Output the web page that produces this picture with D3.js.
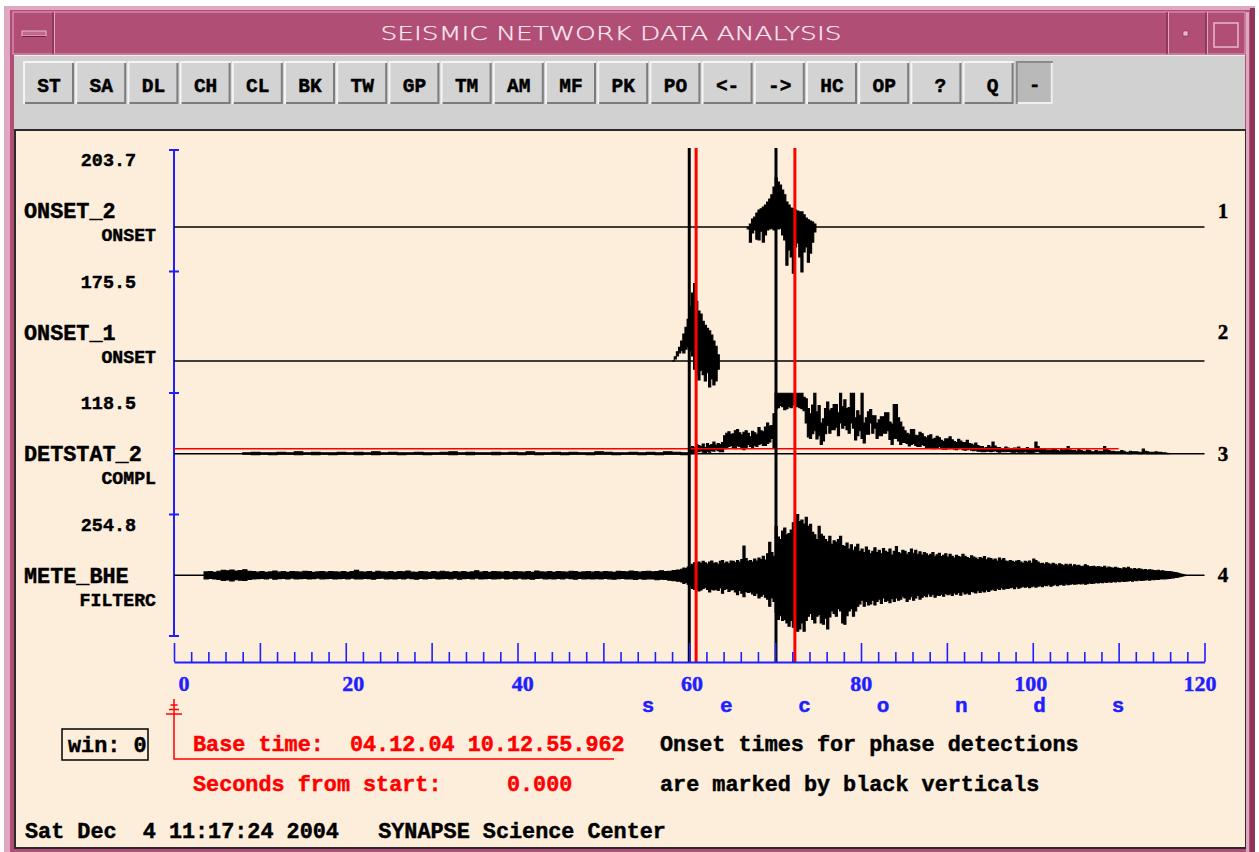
<!DOCTYPE html>
<html>
<head>
<meta charset="utf-8">
<script src="https://cdn.jsdelivr.net/npm/d3@7"></script>
<style>
  body { margin: 0; background: #ffffff; }
  svg { display: block; }
</style>
</head>
<body>
<svg id="chart" width="1259" height="852"></svg>
<script>
// ---------------- data ----------------
const windowTitle = "SEISMIC NETWORK DATA ANALYSIS";
const buttonLabels = ["ST","SA","DL","CH","CL","BK","TW","GP","TM","AM","MF","PK","PO","<-","->","HC","OP","?","Q"];

const channelNames   = ["ONSET_2", "ONSET_1", "DETSTAT_2", "METE_BHE"];
const channelTypes   = ["ONSET", "ONSET", "COMPL", "FILTERC"];
const channelScales  = [203.7, 175.5, 118.5, 254.8];
const channelNumbers = ["1", "2", "3", "4"];

const timeTickLabels = [0, 20, 40, 60, 80, 100, 120];
const axisWord = ["s", "e", "c", "o", "n", "d", "s"];

const onsetTimes = [60.0, 70.1];   // phase onsets (black verticals)
const pickTimes  = [60.8, 72.3];   // picks (red verticals)

const detThreshold = 9.7;          // DETSTAT_2 trigger level
const detThresholdEnd = 110;       // seconds

// Traces are stored as per-bin maximum / minimum (display envelope).

// ONSET_2 : 0.25 s bins from 66.75 s
const onset2Start = 66.75, onset2Step = 0.25;
const onset2Max = [0,8,21,26,37,45,48,53,58,66, 74,85,106,130,119,111,98,85,66,58,
  50,48,45,42,40,40,32,24,19,16, 13,8];
const onset2Min = [-5,-40,-16,-8,-32,-34,-11,-40,-21,-8, -5,-3,-8,-3,-5,-3,-21,-34,-101,-61,
  -79,-122,-53,-42,-79,-119,-66,-53,-93,-69, -40,-13];

// ONSET_1 : 0.25 s bins from 58 s
const onset1Start = 58.0, onset1Step = 0.25;
const onset1Max = [0,8,18,27,39,53,66,82,107,133,152,117,98,92,78,70,64,59,51,39,29,12];
const onset1Min = [0,4,10,16,20,16,23,29,20,10,-16,-29,-37,-18,-27,-39,-23,-51,-35,-47,-39,-16];

// DETSTAT_2 : background, 1 s bins from 8 s
const detQuietStart = 8, detQuietStep = 1;
const detQuietMax = [2,3,2,2,3,2,4,2,3,2, 2,3,2,3,2,4,2,3,2,2, 3,2,2,3,4,2,3,2,2,3,
  2,3,2,4,2,2,3,2,3,2, 2,4,3,2,2,3,2,3,2,4, 3,2];
const detQuietMin = [-1,-2,-1,-2,-1,-1,-2,-1,-2,-1, -2,-1,-1,-2,-1,-2,-1,-1,-2,-1,
  -1,-2,-1,-1,-2,-1,-2,-1,-1,-2, -1,-1,-2,-1,-2,-1,-1,-2,-1,-1, -2,-1,-1,-2,-1,-1,-2,-1,-2,-1, -1,-2];
// DETSTAT_2 : event, 0.25 s bins from 60 s
const detEventStart = 60, detEventStep = 0.25;
const detEventMax = [
  8,14,12,18,16,14,19,12,        20,16,18,23,17,20,18,22,
  35,40,43,38,39,45,47,41,       37,42,45,40,33,44,41,38,
  51,45,43,52,60,54,55,78,       118,118,118,118,118,118,118,118,
  118,118,118,118,118,110,107,88, 78,95,118,82,94,60,68,88,
  101,85,88,96,96,80,118,92,     105,88,90,118,118,70,84,75,
  118,60,70,82,86,74,74,60,      66,72,72,80,80,62,58,96,
  96,70,62,52,45,40,38,47,       47,36,35,42,39,33,31,35,
  37,28,30,34,31,26,24,29,       29,33,27,24,22,28,25,22,
  22,26,20,19,17,21,16,14,       14,11,12,16,13,23,15,12,
  12,10,9,13,11,9,8,11,          11,13,10,8,9,12,10,9,
  10,23,14,9,8,8,7,7,            7,9,8,6,5,8,7,9,
  14,7,6,6,5,8,6,5,              5,7,6,4,4,6,5,5,
  5,14,8,6,5,5,4,4,              4,6,5,3,3,5,4,4,
  4,3,3,9,5,4,3,3,               3,4,3,3,2,2,1,0];
const detEventMin = [
  0,2,3,4,4,6,3,2,               4,3,6,5,8,6,4,4,
  10,12,14,16,12,10,15,14,       10,8,12,18,14,12,16,14,
  18,20,16,16,20,23,30,12,       88,90,94,92,86,88,92,90,
  95,98,92,90,88,84,60,33,       30,39,45,29,35,18,25,39,
  55,40,47,47,52,35,60,50,       55,47,40,60,50,27,35,45,
  30,21,38,38,60,40,50,30,       35,35,40,40,45,28,18,30,
  30,25,18,22,22,20,15,18,       20,16,14,14,18,16,12,12,
  12,10,10,12,14,10,9,9,         10,10,12,9,8,10,11,8,
  7,8,9,7,6,7,5,5,               4,4,5,5,4,5,6,4,
  3,4,4,4,5,4,3,3,               4,3,3,3,4,3,2,2,
  3,4,5,3,2,2,3,2,               2,2,3,2,1,1,2,2,
  3,2,2,2,2,1,1,1,               1,1,2,1,1,1,2,1,
  2,2,3,2,1,1,2,1,               1,1,2,1,0,0,1,1,
  1,0,0,1,1,0,0,0,               0,0,1,0,0,0,0,0];

// METE_BHE : background, 0.5 s bins from 3.5 s
const bheQuietStart = 3.5, bheQuietStep = 0.5;
const bheQuietMax = [
  14,16,12,17,21,19,22,18,20,23,17,
  15,13,16,12,14,18,13,15,12,16,14,13,17,15,12,14,16,13,15,14,
  13,16,12,15,21,14,13,15,12,17,14,13,16,12,15,14,18,13,12,16,
  14,12,15,13,17,14,12,16,13,15,12,14,19,13,15,12,16,14,13,15,
  12,15,14,13,16,12,18,14,13,15,12,16,14,13,17,15,12,14,16,13,
  15,13,16,14,12,17,15,14,18,16,13,15,17,14,16,19,15,17,20,22];
const bheQuietMin = [
  -15,-13,-16,-18,-22,-20,-24,-19,-21,-22,-18,
  -16,-14,-13,-15,-12,-17,-14,-13,-16,-12,-15,-14,-13,-16,-14,-12,-15,-14,-13,-16,
  -14,-13,-15,-12,-16,-15,-13,-14,-17,-13,-12,-15,-14,-16,-13,-15,-12,-14,-17,-13,
  -15,-13,-12,-16,-14,-13,-15,-12,-17,-14,-13,-15,-12,-16,-14,-13,-15,-14,-12,-16,
  -13,-16,-12,-15,-14,-17,-13,-12,-15,-14,-16,-13,-15,-12,-14,-17,-13,-15,-14,-16,
  -14,-16,-13,-15,-17,-14,-13,-16,-15,-18,-14,-17,-15,-16,-19,-17,-18,-21,-23,-25];
// METE_BHE : event, 0.25 s bins from 59 s
const bheEventStart = 59, bheEventStep = 0.25;
const bheEventMax = [
  25,30,28,34,40,46,52,48,        55,50,58,52,47,55,60,50,
  52,46,58,62,50,55,48,60,        58,52,62,55,66,122,70,58,
  62,55,68,60,72,66,80,64,        90,138,95,80,205,160,150,185,
  198,170,175,190,220,243,255,225, 232,215,243,205,214,180,170,150,
  205,172,163,150,140,163,130,145, 138,150,163,125,120,135,110,128,
  105,118,130,100,110,95,118,105,  90,100,115,95,105,90,112,100,
  95,110,85,100,120,95,90,105,     100,88,95,110,92,105,88,98,
  85,95,90,82,88,95,80,86,         92,78,84,90,76,88,80,72,
  84,78,75,88,80,74,70,82,         76,72,66,74,70,78,65,72,
  70,64,68,60,72,64,70,60,         56,62,58,54,60,62,55,50,
  58,54,60,50,68,62,55,48,         50,46,52,48,44,50,46,42,
  48,44,40,46,42,46,38,44,         40,42,36,38,44,40,35,36,
  38,33,36,34,32,38,30,34,         31,29,33,30,28,26,31,28,
  33,27,25,28,24,27,25,22,         24,21,23,22,20,19,21,18,
  19,17,16,15,14,12,11,9,
  6,4,2];
const bheEventMin = [
  -28,-34,-30,-38,-45,-55,-60,-58,        -66,-62,-55,-50,-60,-70,-58,-62,
  -58,-64,-52,-75,-60,-55,-68,-62,        -60,-70,-82,-64,-75,-90,-68,-72,
  -70,-78,-85,-75,-95,-88,-80,-92,        -100,-130,-95,-110,-155,-185,-170,-190,
  -185,-200,-214,-190,-218,-205,-235,-225, -200,-235,-190,-172,-160,-185,-200,-172,
  -165,-200,-205,-180,-225,-175,-150,-160, -172,-140,-150,-200,-205,-170,-150,-140,
  -172,-150,-130,-120,-105,-130,-110,-125, -120,-105,-125,-110,-100,-118,-95,-110,
  -105,-115,-98,-110,-95,-105,-100,-90,    -95,-110,-100,-90,-105,-95,-85,-100,
  -92,-85,-90,-78,-88,-80,-92,-84,        -85,-80,-88,-76,-82,-78,-85,-74,
  -80,-72,-84,-70,-78,-74,-80,-68,        -70,-74,-65,-72,-66,-70,-62,-68,
  -62,-58,-64,-55,-60,-52,-58,-54,        -55,-52,-50,-56,-48,-54,-50,-46,
  -50,-46,-52,-48,-45,-50,-46,-44,        -48,-42,-44,-40,-46,-42,-38,-44,
  -40,-38,-42,-36,-40,-38,-35,-38,        -37,-34,-36,-33,-38,-35,-32,-34,
  -33,-30,-32,-29,-31,-28,-30,-27,        -29,-26,-28,-25,-27,-24,-26,-25,
  -24,-22,-25,-21,-23,-20,-22,-21,        -20,-19,-21,-18,-19,-17,-18,-16,
  -16,-15,-14,-13,-12,-11,-9,-8,
  -6,-4,-2];

const baseTimeText = "Base time:  04.12.04 10.12.55.962";
const secondsText  = "Seconds from start:     0.000";
const noteLines    = ["Onset times for phase detections", "are marked by black verticals"];
const statusText   = "Sat Dec  4 11:17:24 2004   SYNAPSE Science Center";
const winText      = "win: 0";

// ---------------- helpers ----------------
const MONO  = "'Liberation Mono','DejaVu Sans Mono',monospace";
const SERIF = "'Liberation Serif','DejaVu Serif',serif";
const BLUE = "#1f1fff", RED = "#ff0000";

const svg = d3.select("#chart");

function text(parent, str, x, y, o = {}) {
  const fill = o.fill || "#000";
  return parent.append("text")
    .attr("x", x).attr("y", y)
    .attr("font-family", o.family || MONO)
    .attr("font-weight", o.weight || "bold")
    .attr("font-size", o.size || 21.8)
    .attr("fill", fill)
    .attr("stroke", o.heavy === false ? "none" : fill)
    .attr("stroke-width", o.heavy === false ? 0 : 0.45)
    .attr("text-anchor", o.anchor || "start")
    .attr("xml:space", "preserve")
    .style("white-space", "pre")
    .text(str);
}

// ---------------- window frame ----------------
svg.append("rect").attr("x", 4).attr("y", 6).attr("width", 1251).attr("height", 846).attr("fill", "#b14e76");
svg.append("rect").attr("x", 4).attr("y", 6).attr("width", 1251).attr("height", 4).attr("fill", "#e0a7c1");
svg.append("rect").attr("x", 4).attr("y", 6).attr("width", 6).attr("height", 846).attr("fill", "#e0a7c1");
svg.append("rect").attr("x", 1246).attr("y", 12).attr("width", 3).attr("height", 840).attr("fill", "#e0a7c1");
svg.append("rect").attr("x", 1250).attr("y", 8).attr("width", 5).attr("height", 844).attr("fill", "#8e3559");

// title bar
const tb = svg.append("g");
tb.append("rect").attr("x", 13).attr("y", 12).attr("width", 1232).attr("height", 42)
  .attr("fill", "#b14e76").attr("stroke", "#e0a7c1").attr("stroke-width", 1);
[53, 1167, 1206].forEach(x => {
  tb.append("line").attr("x1", x).attr("x2", x).attr("y1", 12).attr("y2", 54).attr("stroke", "#6e2444").attr("stroke-width", 1);
  tb.append("line").attr("x1", x + 1.5).attr("x2", x + 1.5).attr("y1", 12).attr("y2", 54).attr("stroke", "#e0a7c1").attr("stroke-width", 1);
});
tb.append("rect").attr("x", 22).attr("y", 31).attr("width", 24).attr("height", 5).attr("fill", "#c4688f")
  .attr("stroke", "#e8b6cc").attr("stroke-width", 1);
tb.append("line").attr("x1", 22).attr("x2", 46).attr("y1", 36.5).attr("y2", 36.5).attr("stroke", "#6e2444");
tb.append("rect").attr("x", 1183).attr("y", 31).attr("width", 5).attr("height", 5).attr("fill", "#e8b6cc").attr("stroke", "#7a2c50").attr("stroke-width", 0.6);
tb.append("rect").attr("x", 1214).attr("y", 23).attr("width", 24).attr("height", 24).attr("fill", "none").attr("stroke", "#e8b6cc").attr("stroke-width", 1.5);
text(tb, windowTitle, 611, 40, {family: "'DejaVu Sans','Noto Sans',sans-serif", weight: 200, size: 19.5, fill: "#f9ebf1", anchor: "middle", heavy: false})
  .attr("stroke", "#f9ebf1").attr("stroke-width", 0.25)
  .attr("textLength", 461).attr("lengthAdjust", "spacingAndGlyphs");

// toolbar
const bar = svg.append("g");
bar.append("rect").attr("x", 14).attr("y", 55).attr("width", 1231).attr("height", 75).attr("fill", "#d1d1d1");
bar.append("line").attr("x1", 14).attr("x2", 1245).attr("y1", 55.5).attr("y2", 55.5).attr("stroke", "#f0f0f0");
const btnX = d3.scaleLinear().domain([0, 1]).range([24, 76.2]);
buttonLabels.forEach((lab, i) => {
  const x0 = btnX(i), y0 = 62, w = 50, h = 42;
  const g = bar.append("g");
  g.append("rect").attr("x", x0).attr("y", y0).attr("width", w).attr("height", h).attr("fill", "#d3d3d3");
  g.append("path").attr("d", `M${x0},${y0 + h}V${y0}H${x0 + w}`).attr("fill", "none").attr("stroke", "#f4f4f4").attr("stroke-width", 2);
  g.append("path").attr("d", `M${x0 + 1},${y0 + h - 1}H${x0 + w - 1}V${y0 + 1}`).attr("fill", "none").attr("stroke", "#7c7c7c").attr("stroke-width", 2);
  const dx = i >= 17 ? 4 : 0;
  text(g, lab, x0 + w / 2 + dx, 92, {size: 19.5, anchor: "middle"});
});
{
  const x0 = btnX(19) + 1, y0 = 62, w = 36, h = 42;
  bar.append("rect").attr("x", x0).attr("y", y0).attr("width", w).attr("height", h).attr("fill", "#b9b9b9");
  bar.append("path").attr("d", `M${x0},${y0 + h}V${y0}H${x0 + w}`).attr("fill", "none").attr("stroke", "#8a8a8a").attr("stroke-width", 2);
  bar.append("path").attr("d", `M${x0 + 1},${y0 + h - 1}H${x0 + w - 1}V${y0 + 1}`).attr("fill", "none").attr("stroke", "#f0f0f0").attr("stroke-width", 2);
  text(bar, "-", x0 + w / 2, 91, {size: 19, anchor: "middle"});
}

// drawing area
svg.append("rect").attr("x", 14).attr("y", 129).attr("width", 1232).attr("height", 720).attr("fill", "#2b2b2b");
svg.append("rect").attr("x", 16).attr("y", 131).attr("width", 1229).attr("height", 716).attr("fill", "#fdeedc");

// ---------------- scales ----------------
const x = d3.scaleLinear().domain([0, 120]).range([174, 1204.5]);
const xLabel = d3.scaleLinear().domain([0, 120]).range([184, 1200]);
const band = d3.scaleLinear().domain([0, 4]).range([150, 636]);
const zeroY = [227, 361, band(2.5), band(3.5)];          // zero line of each channel
const yScales = channelScales.map((s, i) =>
  d3.scaleLinear().domain([0, s]).range([zeroY[i], band(i)]));

// ---------------- vertical (channel) axis ----------------
const plot = svg.append("g");
plot.append("line").attr("x1", 174).attr("x2", 174).attr("y1", band(0)).attr("y2", band(4))
  .attr("stroke", BLUE).attr("stroke-width", 2);
plot.selectAll(".ytick").data(d3.range(5)).join("line")
  .attr("x1", 169).attr("x2", 179).attr("y1", d => band(d)).attr("y2", d => band(d))
  .attr("stroke", BLUE).attr("stroke-width", 2);

channelNames.forEach((name, i) => {
  const c = band(i + 0.5);
  text(plot, channelScales[i].toFixed(1), 136, band(i) + 16, {size: 18.4, anchor: "end"});
  text(plot, name, 24, c + 7.5, {size: 21.8});
  text(plot, channelTypes[i], 156, c + 30.5, {size: 18.2, anchor: "end"});
  text(plot, channelNumbers[i], 1223, c + 7, {family: SERIF, size: 21, anchor: "middle"});
});

// ---------------- traces ----------------
const traceSegments = [
  [[onset2Start, onset2Step, onset2Max, onset2Min]],
  [[onset1Start, onset1Step, onset1Max, onset1Min]],
  [[detQuietStart, detQuietStep, detQuietMax, detQuietMin],
   [detEventStart, detEventStep, detEventMax, detEventMin]],
  [[bheQuietStart, bheQuietStep, bheQuietMax, bheQuietMin],
   [bheEventStart, bheEventStep, bheEventMax, bheEventMin]]
];

traceSegments.forEach((segs, i) => {
  const y = yScales[i];
  // zero line across the whole window
  plot.append("line").attr("x1", x(0)).attr("x2", x(120)).attr("y1", y(0)).attr("y2", y(0))
    .attr("stroke", "#000").attr("stroke-width", 1.6);
  segs.forEach(([start, step, hi, lo]) => {
    const bins = hi.map((h, k) => ({t: start + k * step, hi: h, lo: lo[k]}));
    bins.push({t: start + hi.length * step, hi: hi[hi.length - 1], lo: lo[lo.length - 1]});
    const area = d3.area().curve(d3.curveStepAfter)
      .x(d => x(d.t)).y0(d => y(d.lo)).y1(d => y(d.hi));
    plot.append("path").attr("d", area(bins))
      .attr("fill", "#000").attr("stroke", "#000").attr("stroke-width", 1.1).attr("stroke-linejoin", "miter");
  });
});

// detection threshold of DETSTAT_2
plot.append("line").attr("x1", x(0)).attr("x2", x(detThresholdEnd))
  .attr("y1", yScales[2](detThreshold)).attr("y2", yScales[2](detThreshold))
  .attr("stroke", RED).attr("stroke-width", 1.5);

// onset and pick verticals
plot.selectAll(".onset").data(onsetTimes).join("line")
  .attr("x1", d => x(d)).attr("x2", d => x(d)).attr("y1", 148).attr("y2", 662)
  .attr("stroke", "#000").attr("stroke-width", 3);
plot.selectAll(".pick").data(pickTimes).join("line")
  .attr("x1", d => x(d)).attr("x2", d => x(d)).attr("y1", 148).attr("y2", 662)
  .attr("stroke", RED).attr("stroke-width", 3);

// ---------------- time axis ----------------
const axisG = svg.append("g").attr("transform", "translate(0,662)");
axisG.call(d3.axisTop(x).tickValues(d3.range(0, 121, 2)).tickSize(10).tickSizeOuter(0).tickFormat(""));
axisG.select(".domain").attr("stroke", BLUE).attr("stroke-width", 2);
axisG.selectAll(".tick line").attr("stroke", BLUE).attr("stroke-width", 1.6)
  .attr("y2", d => (d % 10 === 0 ? -19 : -10));
timeTickLabels.forEach(v => text(svg, String(v), xLabel(v), 691, {family: SERIF, size: 22, fill: BLUE, anchor: "middle"}));
const wordX = d3.scaleLinear().domain([0, 6]).range([648, 1118]);
axisWord.forEach((ch, i) => text(svg, ch, wordX(i), 712, {size: 21, fill: BLUE, anchor: "middle"}));

// ---------------- footer ----------------
const foot = svg.append("g");
foot.append("rect").attr("x", 62).attr("y", 729).attr("width", 86).attr("height", 31)
  .attr("fill", "none").attr("stroke", "#000").attr("stroke-width", 1.5);
text(foot, winText, 68, 752);

foot.append("path").attr("d", `M${x(0)},699V759H614`).attr("fill", "none").attr("stroke", RED).attr("stroke-width", 1.5);
[[705, 3.5], [709.5, 5], [714, 8]].forEach(([yy, hw]) =>
  foot.append("line").attr("x1", x(0) - hw).attr("x2", x(0) + hw).attr("y1", yy).attr("y2", yy)
    .attr("stroke", RED).attr("stroke-width", 1.5));
text(foot, baseTimeText, 193, 751, {fill: RED});
text(foot, secondsText, 193, 791, {fill: RED});
text(foot, noteLines[0], 660, 751);
text(foot, noteLines[1], 660, 791);
text(foot, statusText, 25, 838);
</script>
</body>
</html>
